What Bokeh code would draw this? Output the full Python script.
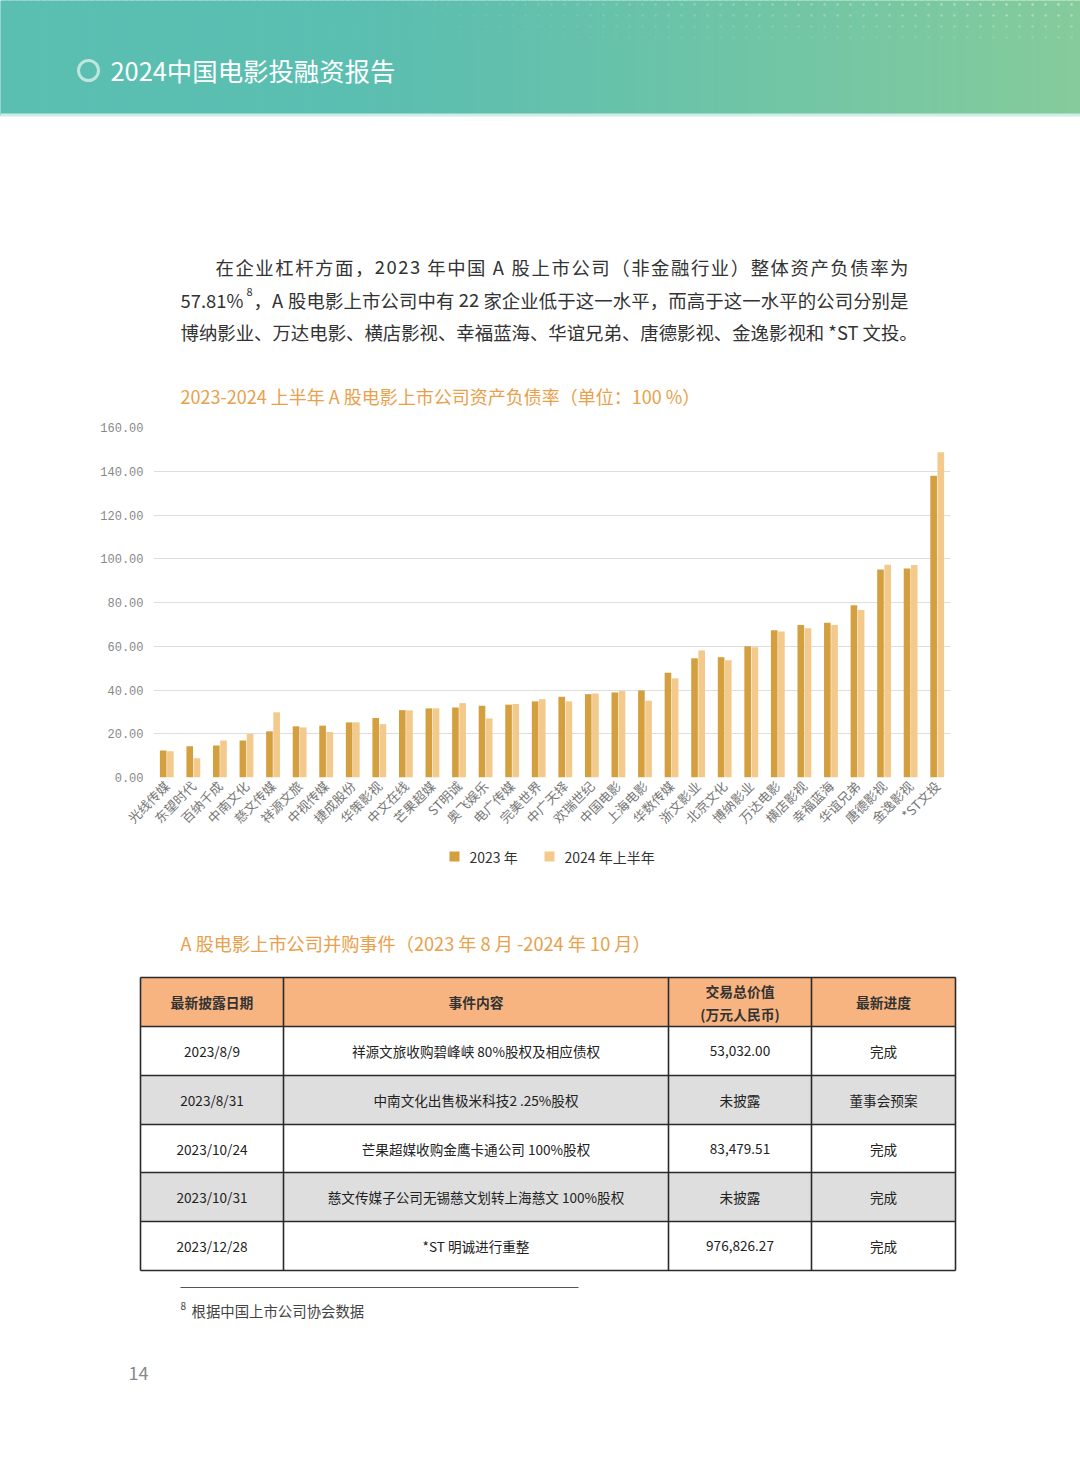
import numpy as np
from bokeh.plotting import figure
from bokeh.models import Range1d, FactorRange, FixedTicker, NumeralTickFormatter, ColumnDataSource
from bokeh.transform import dodge
from bokeh.core.properties import value
from bokeh.embed import file_html
from bokeh.resources import INLINE

# ---------------- data ----------------
companies = ["光线传媒", "东望时代", "百纳千成", "中南文化", "慈文传媒", "祥源文旅", "中视传媒", "捷成股份",
             "华策影视", "中文在线", "芒果超媒", "ST明诚", "奥飞娱乐", "电广传媒", "完美世界", "中广天择",
             "欢瑞世纪", "中国电影", "上海电影", "华数传媒", "浙文影业", "北京文化", "博纳影业", "万达电影",
             "横店影视", "幸福蓝海", "华谊兄弟", "唐德影视", "金逸影视", "*ST文投"]
v2023 = [12.3, 14.3, 14.6, 16.9, 21.1, 23.4, 23.7, 25.2, 27.2, 30.8, 31.6, 32.0, 32.8, 33.3, 34.8,
         36.9, 38.1, 38.9, 39.8, 47.9, 54.5, 55.0, 60.0, 67.3, 69.7, 70.8, 78.7, 95.1, 95.5, 138.0]
v2024 = [12.0, 8.8, 16.9, 19.9, 29.8, 22.9, 20.8, 25.2, 24.4, 30.7, 31.6, 34.0, 27.0, 33.6, 35.8,
         34.8, 38.4, 39.5, 35.1, 45.3, 58.1, 53.6, 59.5, 66.7, 68.2, 69.7, 76.6, 97.3, 97.1, 148.7]
series_labels = ["2023 年", "2024 年上半年"]
y_ticks = [0, 20, 40, 60, 80, 100, 120, 140, 160]

table_header = ["最新披露日期", "事件内容", "交易总价值", "(万元人民币)", "最新进度"]
t_dates = ["2023/8/9", "2023/8/31", "2023/10/24", "2023/10/31", "2023/12/28"]
t_events = ["祥源文旅收购碧峰峡 80%股权及相应债权", "中南文化出售极米科技2 .25%股权",
            "芒果超媒收购金鹰卡通公司 100%股权", "慈文传媒子公司无锡慈文划转上海慈文 100%股权",
            "*ST 明诚进行重整"]
t_values = ["53,032.00", "未披露", "83,479.51", "未披露", "976,826.27"]
t_progress = ["完成", "董事会预案", "完成", "完成", "完成"]

header_title = "2024中国电影投融资报告"
para_lines = ["在企业杠杆方面，2023 年中国 A 股上市公司（非金融行业）整体资产负债率为",
              "57.81%", "8", "，A 股电影上市公司中有 22 家企业低于这一水平，而高于这一水平的公司分别是",
              "博纳影业、万达电影、横店影视、幸福蓝海、华谊兄弟、唐德影视、金逸影视和 *ST 文投。"]
chart_title = "2023-2024 上半年 A 股电影上市公司资产负债率（单位：100 %）"
table_title = "A 股电影上市公司并购事件（2023 年 8 月 -2024 年 10 月）"
footnote_num = "8"
footnote = "根据中国上市公司协会数据"
page_no = "14"

# ---------------- styles ----------------
FONT = "Noto Sans CJK SC"
W = 1080
C23 = "#D4A03F"
C24 = "#F3CA8C"
ORANGE = "#E9A04A"
TEXT = "#333333"
PSIZE = 18.4


def page_fig(top, bottom):
    f = figure(width=W, height=bottom - top, x_range=Range1d(0, W), y_range=Range1d(bottom, top),
               output_backend="svg", toolbar_location=None, min_border=0,
               x_axis_location=None, y_axis_location=None)
    f.grid.visible = False
    f.outline_line_color = None
    f.background_fill_color = "white"
    f.border_fill_color = "white"
    return f


def txt(f, x, y, s, size, color=TEXT, align="left", style="normal", font=FONT):
    f.text(x=[x], y=[y], text=[s], text_font=value(font), text_font_size=f"{size}px",
           text_color=color, text_align=align, text_baseline="middle", text_font_style=style)


def char_w(ch):
    if ord(ch) >= 0x2E80:
        return 1.0
    if ch.isdigit():
        return 0.553
    return {" ": 0.224, ".": 0.27, "%": 0.86, "*": 0.46, "A": 0.64, "S": 0.55, "T": 0.55}.get(ch, 0.6)


def justify(f, x0, x1, y, s, size, color=TEXT):
    widths = [char_w(c) * size for c in s]
    extra = (x1 - x0 - sum(widths)) / (len(s) - 1)
    xs, pos = [], x0
    for w in widths:
        xs.append(pos)
        pos += w + extra
    f.text(x=xs, y=[y] * len(s), text=list(s), text_font=value(FONT), text_font_size=f"{size}px",
           text_color=color, text_align="left", text_baseline="middle")


# ---------------- top part (header + paragraph + chart title) ----------------
fa = page_fig(0, 410)
n = 160
xs = np.linspace(0, 1080, n + 1)
c1 = np.array([90, 190, 177])
c2 = np.array([134, 204, 156])
cols = []
for i in range(n):
    t = (xs[i] / 1080)
    t = max(0.0, (t - 0.3) / 0.7) ** 1.2
    c = (c1 * (1 - t) + c2 * t).astype(int)
    cols.append("#%02x%02x%02x" % tuple(c))
fa.quad(left=xs[:-1], right=xs[1:], top=0, bottom=115, fill_color=cols, line_color=cols)
fa.quad(left=[0], right=[1080], top=[113], bottom=[116], fill_color="#CDEDE6", line_color=None)
dx, dy = np.meshgrid(np.arange(330, 1080, 13), np.arange(4, 48, 11))
dx = dx.ravel(); dy = dy.ravel()
alpha = np.clip((dx - 330) / 750 * 0.5 * (1 - dy / 55), 0.03, 0.45)
fa.scatter(x=dx, y=dy, size=2.5, fill_color="white", line_color=None, fill_alpha=alpha)

fa.scatter(x=[88], y=[70], size=20, fill_color=None, line_color="#D8F0EA", line_width=3, line_alpha=0.8)
txt(fa, 110, 69, header_title, 25.4, color="white")

justify(fa, 215, 908, 266, para_lines[0], PSIZE)
txt(fa, 180, 299, para_lines[1], PSIZE)
txt(fa, 246, 291, para_lines[2], 11)
justify(fa, 253, 908, 299, para_lines[3], PSIZE)
txt(fa, 180, 331, para_lines[4], PSIZE)
txt(fa, 180, 395, chart_title, 18, color=ORANGE)

# ---------------- bar chart ----------------
src = ColumnDataSource(dict(company=companies, v2023=v2023, v2024=v2024))
p = figure(width=W, height=430, x_range=FactorRange(factors=companies), y_range=Range1d(0, 160),
           output_backend="svg", toolbar_location=None,
           min_border_left=153, min_border_right=130, min_border_top=17, min_border_bottom=63)
p.outline_line_color = None
p.background_fill_color = "white"
p.border_fill_color = "white"
r1 = p.vbar(x=dodge("company", -0.135, range=p.x_range), top="v2023", width=0.25, source=src,
            fill_color=C23, line_color=None)
r2 = p.vbar(x=dodge("company", 0.135, range=p.x_range), top="v2024", width=0.25, source=src,
            fill_color=C24, line_color=None)

yt = FixedTicker(ticks=y_ticks)
p.xgrid.grid_line_color = None
p.ygrid.ticker = yt
p.ygrid.grid_line_color = "#DDDDDD"
p.ygrid.grid_line_width = 1.2
p.yaxis.ticker = yt
p.yaxis.formatter = NumeralTickFormatter(format="0.00")
p.yaxis.major_label_text_font = "Liberation Mono"
p.yaxis.major_label_text_font_size = "12px"
p.yaxis.major_label_text_color = "#888888"
p.yaxis.major_label_standoff = 10
for ax in (p.xaxis, p.yaxis):
    ax.axis_line_color = None
    ax.major_tick_line_color = None
    ax.minor_tick_line_color = None
    ax.major_tick_out = 0
    ax.major_tick_in = 0
p.xaxis.major_label_orientation = np.pi / 4
p.xaxis.major_label_text_font = FONT
p.xaxis.major_label_text_font_size = "13px"
p.xaxis.major_label_text_color = "#777777"
p.xaxis.major_label_standoff = 6

# ---------------- bottom part (legend + table) ----------------
fc = page_fig(840, 1466)
leg_x = [454, 549]
leg_colors = [C23, C24]
fc.scatter(x=leg_x, y=[856, 856], marker="square", size=10, fill_color=leg_colors, line_color=None)
fc.text(x=[x + 15 for x in leg_x], y=[856, 856], text=series_labels, text_font=value(FONT),
        text_font_size="14px", text_color=TEXT, text_align="left", text_baseline="middle")

txt(fc, 180, 942, table_title, 18.2, color=ORANGE)
col_edges = [140, 283, 668, 811, 955]
row_edges = [977, 1026, 1075, 1124, 1172, 1221, 1270]
fc.quad(left=[col_edges[0]], right=[col_edges[-1]], top=[row_edges[0]], bottom=[row_edges[1]],
        fill_color="#F8B480", line_color=None)
for i in range(5):
    fc.quad(left=[col_edges[0]], right=[col_edges[-1]], top=[row_edges[i + 1]], bottom=[row_edges[i + 2]],
            fill_color="#DEDEDE" if i % 2 == 1 else "white", line_color=None)
for yy in row_edges:
    fc.segment(x0=[col_edges[0]], x1=[col_edges[-1]], y0=[yy], y1=[yy], line_color="#2a2a2a", line_width=1.6)
for xx in col_edges:
    fc.segment(x0=[xx], x1=[xx], y0=[row_edges[0]], y1=[row_edges[-1]], line_color="#2a2a2a", line_width=1.6)

ccent = [(col_edges[i] + col_edges[i + 1]) / 2 for i in range(4)]
hy = (row_edges[0] + row_edges[1]) / 2
txt(fc, ccent[0], hy, table_header[0], 13.8, align="center", style="bold")
txt(fc, ccent[1], hy, table_header[1], 13.8, align="center", style="bold")
txt(fc, ccent[2], hy - 11, table_header[2], 13.8, align="center", style="bold")
txt(fc, ccent[2], hy + 12, table_header[3], 13.8, align="center", style="bold")
txt(fc, ccent[3], hy, table_header[4], 13.8, align="center", style="bold")
rc = [(row_edges[i + 1] + row_edges[i + 2]) / 2 for i in range(5)]
for colv, cx in zip([t_dates, t_events, t_values, t_progress], ccent):
    fc.text(x=[cx] * 5, y=rc, text=colv, text_font=value(FONT), text_font_size="13.6px",
            text_color="#222222", text_align="center", text_baseline="middle")

fc.segment(x0=[180], x1=[578], y0=[1287], y1=[1287], line_color="#555555", line_width=1)
txt(fc, 180, 1305, footnote_num, 10, color="#444444")
txt(fc, 191, 1310, footnote, 14.4, color="#444444")
txt(fc, 128, 1372, page_no, 18, color="#888888")

pages = [fa, p, fc]
open("out.html", "w").write(file_html(pages, INLINE))
